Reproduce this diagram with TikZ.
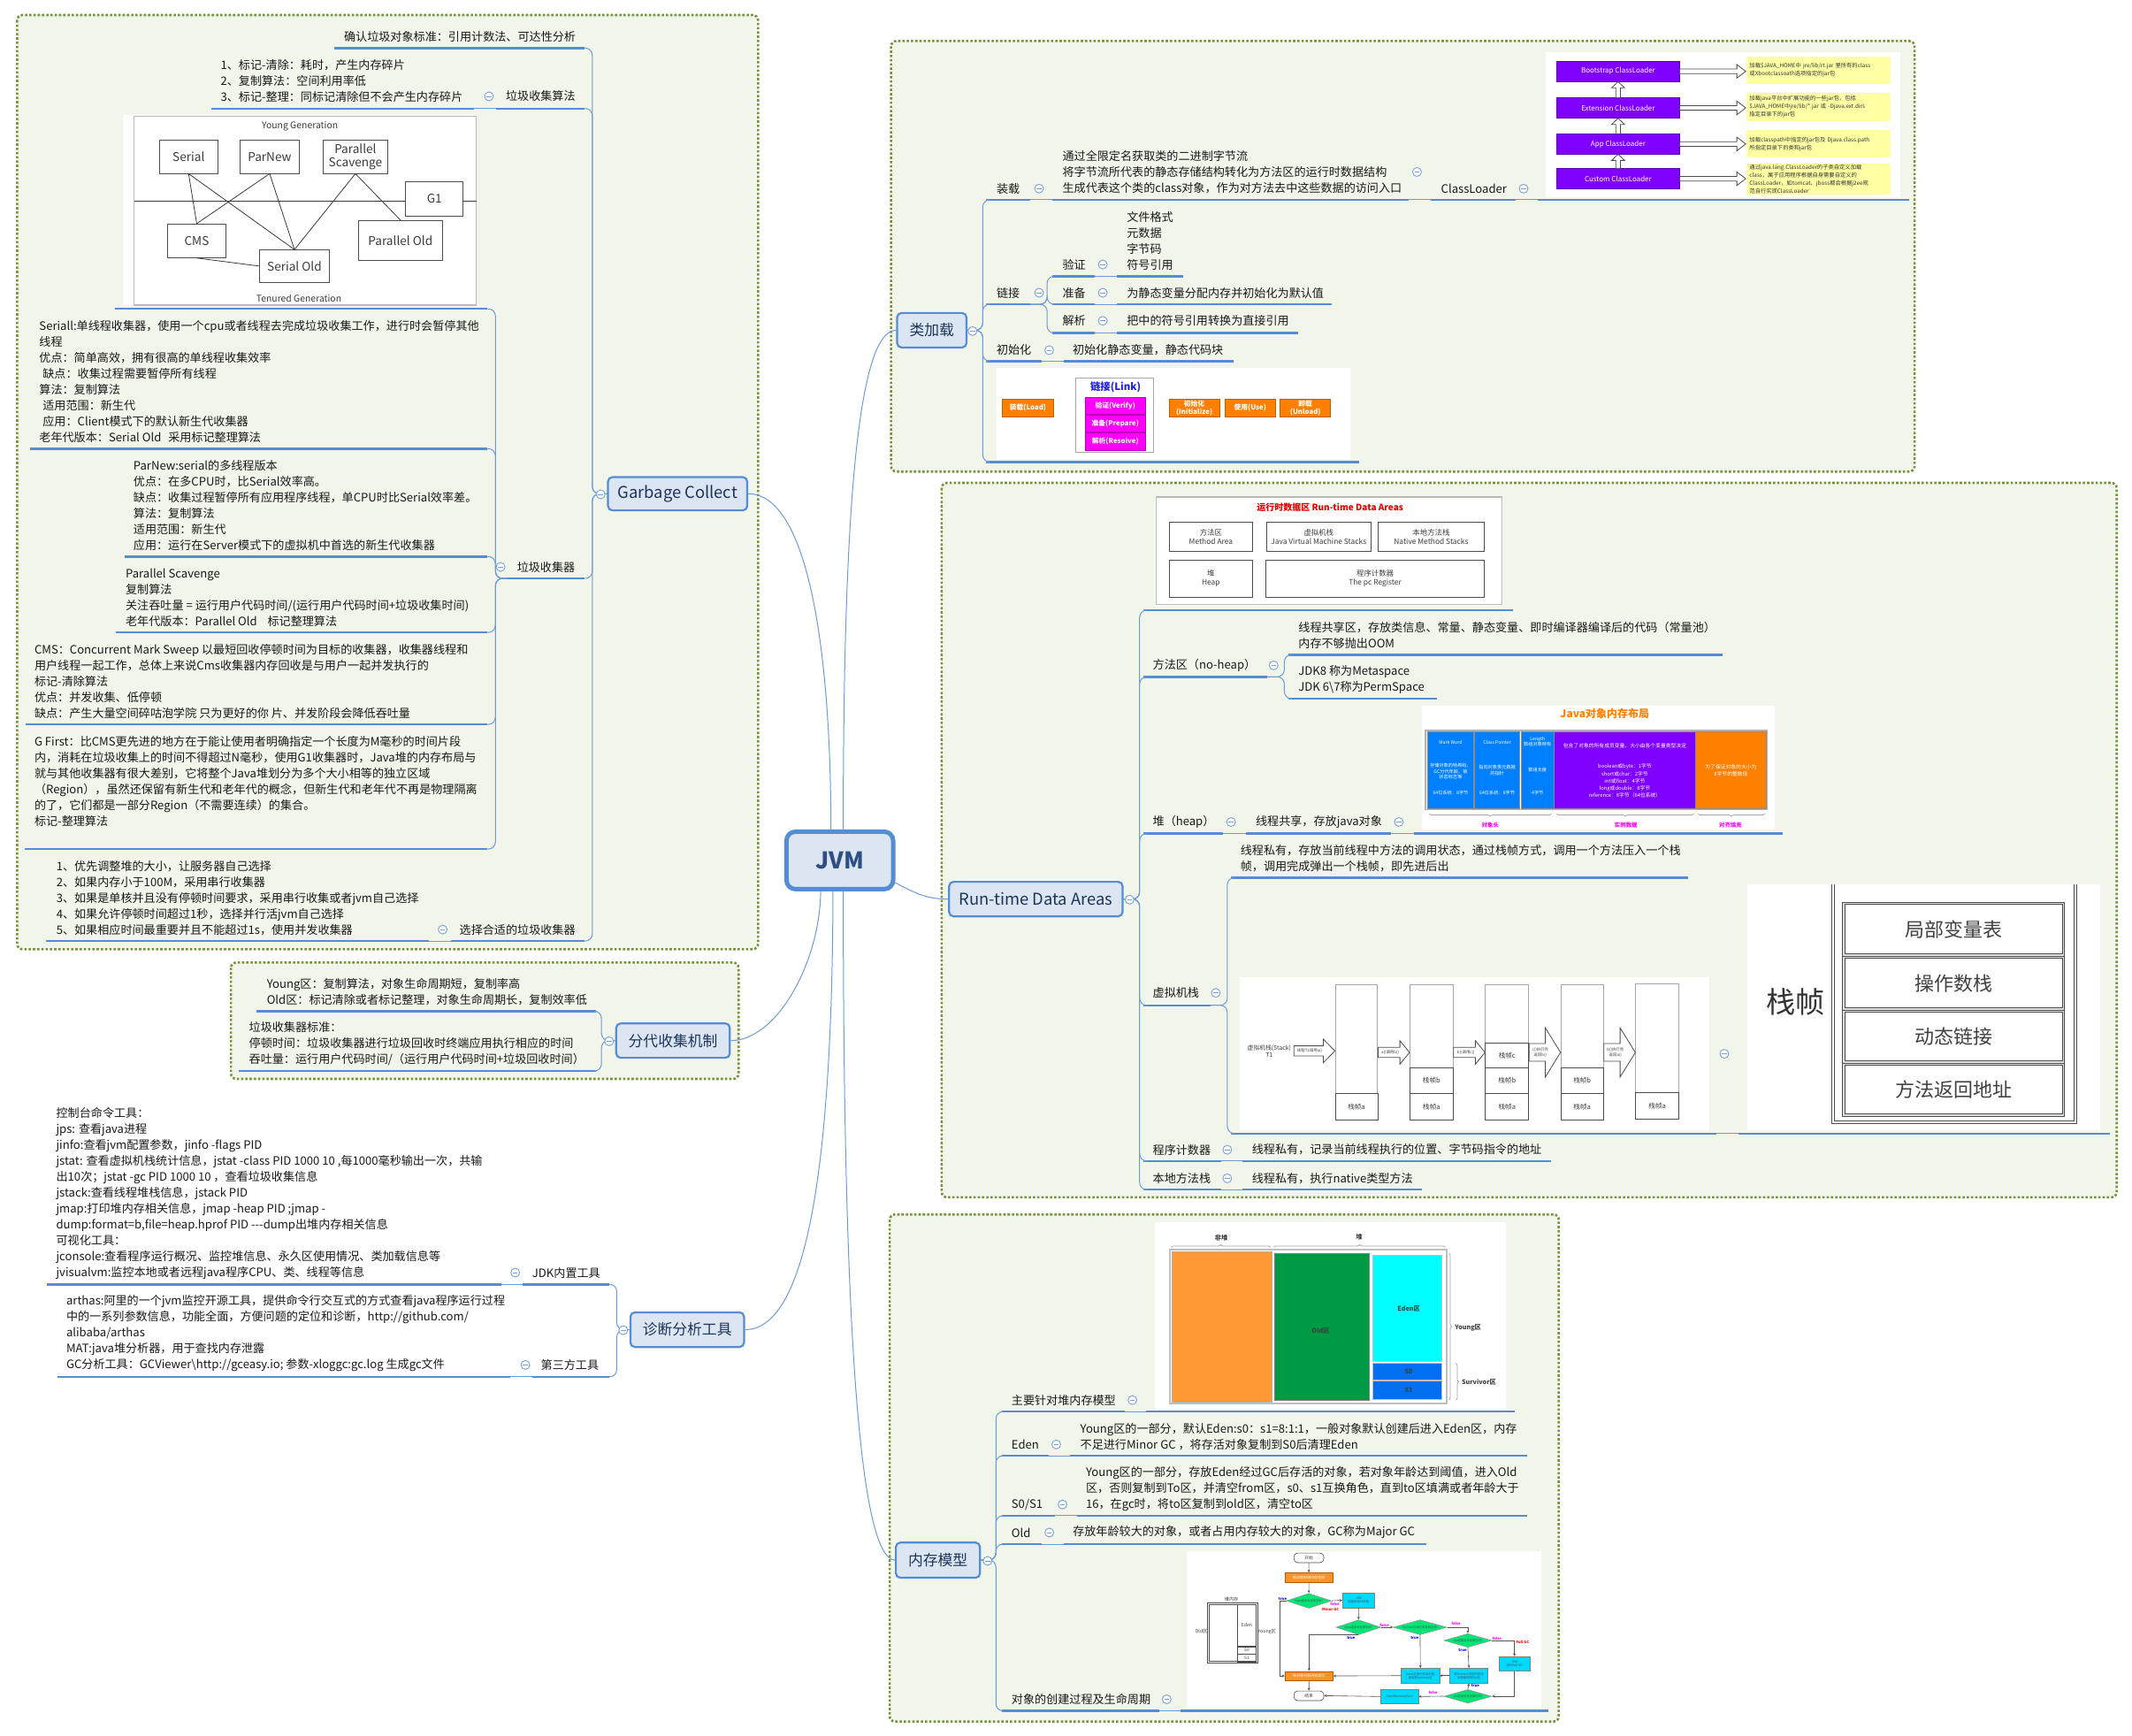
\documentclass[tikz,border=0pt]{standalone}
\usepackage{fontspec}
\setmainfont{Noto Sans CJK SC}
\usetikzlibrary{calc,shapes.geometric,decorations.pathreplacing,arrows.meta}
\definecolor{contf}{RGB}{242,245,234}
\definecolor{contb}{RGB}{118,146,60}
\definecolor{topf}{RGB}{220,230,242}
\definecolor{topb}{RGB}{84,141,212}
\definecolor{topt}{RGB}{30,52,90}
\definecolor{jvmt}{RGB}{47,79,130}
\definecolor{ulc}{RGB}{85,140,212}
\definecolor{cnc}{RGB}{108,154,218}
\definecolor{colc}{RGB}{118,160,222}
\definecolor{txtc}{RGB}{25,25,25}
\definecolor{cpur}{RGB}{128,0,255}
\definecolor{cyel}{RGB}{255,255,163}
\definecolor{cora}{RGB}{255,128,0}
\definecolor{cmag}{RGB}{255,0,255}
\definecolor{cblu}{RGB}{0,128,255}
\definecolor{ccyan}{RGB}{0,255,255}
\definecolor{cgrn}{RGB}{0,153,68}
\definecolor{horange}{RGB}{255,153,51}
\definecolor{fgreen}{RGB}{0,230,118}
\definecolor{s0blue}{RGB}{0,112,240}
\definecolor{linkblue}{RGB}{30,30,230}
\definecolor{gtext}{RGB}{60,60,60}
\newcommand\ux{0.77275pt}
\newcommand\fsz[2]{\fontsize{#1}{#2}\selectfont}
\newcommand\UL[4]{\coordinate (#1-l) at (#2,#4); \coordinate (#1-r) at (#3,#4); \draw[ul] (#1-l) -- (#1-r);}
\newcommand\CN[3]{\draw[cn] (#1) -| (#2 |- #3) -- (#3);}
\newcommand\SC[2]{\draw[cn] (#1) -- (#2);}
\newcommand\KO[2]{\node[coll] (#1) at (#2) {};}
\newcommand\hollowR[5]{\draw[harr] let \p1=(#1.east), \p2=(#2.west) in (\x1,\y1+#3) -- (\x2-#5,\y1+#3) -- (\x2-#5,\y1+#4) -- (\x2,\y1) -- (\x2-#5,\y1-#4) -- (\x2-#5,\y1-#3) -- (\x1,\y1-#3) -- cycle;}
\newcommand\hollowUp[2]{\draw[harr] let \p1=(#1.north), \p2=(#2.south) in (\x1-1.31pt,\y1) -- (\x1-1.31pt,\y2-3.48pt) -- (\x1-3.71pt,\y2-3.48pt) -- (\x1,\y2) -- (\x1+3.71pt,\y2-3.48pt) -- (\x1+1.31pt,\y2-3.48pt) -- (\x1+1.31pt,\y1) -- cycle;}
\tikzset{
  cont/.style={draw=contb, fill=contf, line width=1.3pt, dash pattern=on 1.3pt off 1.1pt, rounded corners=3pt},
  ul/.style={draw=ulc, line width=1.2pt},
  cn/.style={draw=cnc, line width=0.5pt, rounded corners=4pt},
  tx/.style={anchor=west, inner sep=0pt, align=left, font={\fsz{6.55}{9}}, text=txtc},
  sz/.style 2 args={minimum width=#1*\ux, minimum height=#2*\ux, inner sep=0pt},
  topic/.style 2 args={draw=topb, fill=topf, line width=1.1pt, rounded corners=2.5pt, text=topt, minimum width=#1*\ux-1.2pt, minimum height=#2*\ux-1.2pt, inner sep=0pt},
  jvm/.style={draw=topb, fill=topf, line width=2.5pt, rounded corners=5pt, text=jvmt, minimum width=78*\ux, minimum height=42*\ux, inner sep=0pt, font={\bfseries\fsz{13}{14}}},
  coll/.style={circle, draw=colc, fill=white, line width=0.45pt, minimum size=5pt, inner sep=0pt, path picture={\draw[colc, line width=0.45pt] ([xshift=-1.4pt]path picture bounding box.center) -- ([xshift=1.4pt]path picture bounding box.center);}},
  gbox/.style={draw=gray!60!black, fill=white, line width=0.45pt, font={\fsz{6.8}{7.8}}, text=gtext, align=center},
  gline/.style={draw=gray!45!black, line width=0.4pt},
  pbox/.style={fill=cpur, draw=cpur!70!black, line width=0.4pt, text=white, font={\fsz{4}{5}}},
  note/.style={fill=cyel, align=left, font={\fsz{3.15}{4.5}}, text=black!80, inner sep=0pt},
  harr/.style={draw=gray!60!black, fill=white, line width=0.4pt},
  obox/.style={fill=cora, draw=cora!75!black, line width=0.3pt, text=white, font={\bfseries\fsz{3.9}{4.6}}, align=center},
  mbox/.style={fill=cmag, draw=cmag!75!black, line width=0.3pt, text=white, font={\bfseries\fsz{3.9}{4.6}}, align=center},
  rbox/.style={draw=gray!60!black, fill=white, line width=0.4pt, font={\fsz{4.2}{5}}, align=center, text=gtext},
  jblk/.style={draw=black!45, line width=0.4pt},
  jt/.style={text=white, font={\fsz{2.6}{3.3}}, align=center, inner sep=0pt},
  scol/.style={draw=gray!70, line width=0.5pt, fill=white},
  sfr/.style={draw=gray!60!black, line width=0.4pt, fill=white, font={\fsz{3.8}{4.5}}, text=gtext},
  atx/.style={font={\fsz{2.2}{2.7}}, text=gtext, align=center, inner sep=0pt},
  zbox/.style={draw=black!70, line width=0.5pt, double=gray!25, double distance=0.7pt, fill=white, font={\fsz{11}{12}}, text=black!75},
  hlab/.style={font={\bfseries\fsz{3.6}{4.2}}, text=black!75, inner sep=0pt},
  frr/.style={draw=gray!60!black, line width=0.3pt, rounded corners=2pt, fill=white, font={\fsz{2.4}{2.8}}, text=gtext},
  fob/.style={fill=cora!85!white, draw=cora!70!black, line width=0.3pt, text=white, font={\fsz{2}{2.4}}},
  fcy/.style={fill=ccyan!85!blue, draw=black!50, line width=0.3pt, text=black!70, font={\fsz{1.7}{2.1}}, align=center},
  fdia/.style={diamond, aspect=3, fill=fgreen, draw=black!40, line width=0.3pt, inner sep=0pt},
  fdt/.style={font={\fsz{1.6}{2}}, text=black!70, inner sep=0pt},
  farr/.style={draw=gray!65!black, line width=0.3pt, -{Stealth[length=1.6pt,width=1.5pt]}},
  ftl/.style={font={\bfseries\fsz{2.1}{2.5}}, inner sep=0pt},
}
\begin{document}
\begin{tikzpicture}[x=0.77275pt,y=-0.77275pt]
\useasboundingbox (0,0) rectangle (1560,1269.6);
\fill[white] (0,0) rectangle (1560,1269.6);

\node[jvm] (jvm) at (614.5,629.5) {JVM};

% ================= Garbage Collect
\draw[cont] (12.5,11) rectangle (554.7,694.5);
\node[topic={103.4}{25.9}, font={\fsz{9.2}{11}}] (gc) at (495.8,361.25) {Garbage Collect};
\coordinate (gcT) at (433.4,0);
\coordinate (gccT) at (362.5,0);
\UL{gca}{244.7}{428}{35.2}
\UL{gcb}{363}{428}{79.4}
\UL{gcb1}{154.5}{347}{79.4}
\UL{gcc}{371}{428}{423.2}
\UL{gcc1}{83.8}{356.7}{226}
\UL{gcc2}{22.1}{356.7}{328.3}
\UL{gcc3}{91}{356.7}{407.2}
\UL{gcc4}{84.9}{356.7}{462.7}
\UL{gcc5}{18.5}{356.7}{530}
\UL{gcc6}{17.8}{356.7}{621.2}
\UL{gcd}{330}{428}{688.5}
\UL{gcd1}{33.9}{313.9}{688.5}
\CN{gc.west}{gcT}{gca-r}
\CN{gc.west}{gcT}{gcb-r}
\CN{gc.west}{gcT}{gcc-r}
\CN{gc.west}{gcT}{gcd-r}
\SC{gcb-l}{gcb1-r}
\SC{gcd-l}{gcd1-r}
\foreach \c in {gcc1-r,gcc2-r,gcc3-r,gcc4-r,gcc5-r,gcc6-r}{\CN{gcc-l}{gccT}{\c}}
\KO{kgc}{439.5,361.7}
\KO{kgcb}{357.8,70.5}
\KO{kgcc}{366.3,414.8}
\KO{kgcd}{323.9,680.1}
\node[tx] (gcat) at (251.5,27) {确认垃圾对象标准：引用计数法、可达性分析};
\node[tx] (gcbt) at (369.9,70.5) {垃圾收集算法};
\node[tx] (gcb1t) at (161.2,59) {1、标记-清除：耗时，产生内存碎片\\2、复制算法：空间利用率低\\3、标记-整理：同标记清除但不会产生内存碎片};
\node[tx] (gcct) at (378.1,414.8) {垃圾收集器};
\node[tx] (gcc2t) at (28.5,279) {Seriall:单线程收集器，使用一个cpu或者线程去完成垃圾收集工作，进行时会暂停其他\\线程\\优点：简单高效，拥有很高的单线程收集效率\\\hspace*{0.3em}缺点：收集过程需要暂停所有线程\\算法：复制算法\\\hspace*{0.3em}适用范围：新生代\\\hspace*{0.3em}应用：Client模式下的默认新生代收集器\\老年代版本：Serial Old\hspace{0.6em}采用标记整理算法};
\node[tx] (gcc3t) at (97.4,369.5) {ParNew:serial的多线程版本\\优点：在多CPU时，比Serial效率高。\\缺点：收集过程暂停所有应用程序线程，单CPU时比Serial效率差。\\算法：复制算法\\适用范围：新生代\\应用：运行在Server模式下的虚拟机中首选的新生代收集器};
\node[tx] (gcc4t) at (91.7,437.1) {Parallel Scavenge\\复制算法\\关注吞吐量 = 运行用户代码时间/(运行用户代码时间+垃圾收集时间)\\老年代版本：Parallel Old\hspace{0.9em}标记整理算法};
\node[tx] (gcc5t) at (25,498.4) {CMS：Concurrent Mark Sweep 以最短回收停顿时间为目标的收集器，收集器线程和\\用户线程一起工作，总体上来说Cms收集器内存回收是与用户一起并发执行的\\标记-清除算法\\优点：并发收集、低停顿\\缺点：产生大量空间碎咕泡学院 只为更好的你 片、并发阶段会降低吞吐量};
\node[tx] (gcc6t) at (25,571.4) {G First：比CMS更先进的地方在于能让使用者明确指定一个长度为M毫秒的时间片段\\内，消耗在垃圾收集上的时间不得超过N毫秒，使用G1收集器时，Java堆的内存布局与\\就与其他收集器有很大差别，它将整个Java堆划分为多个大小相等的独立区域\\（Region），虽然还保留有新生代和老年代的概念，但新生代和老年代不再是物理隔离\\的了，它们都是一部分Region（不需要连续）的集合。\\标记-整理算法};
\node[tx] (gcdt) at (336,680.1) {选择合适的垃圾收集器};
\node[tx] (gcd1t) at (41,656.9) {1、优先调整堆的大小，让服务器自己选择\\2、如果内存小于100M，采用串行收集器\\3、如果是单核并且没有停顿时间要求，采用串行收集或者jvm自己选择\\4、如果允许停顿时间超过1秒，选择并行活jvm自己选择\\5、如果相应时间最重要并且不能超过1s，使用并发收集器};

% GC collectors picture
\fill[white] (89.9,84.1) rectangle (348.9,223.2);
\draw[gray!55, line width=0.6pt] (98.1,85.2) rectangle (348.5,223.2);
\draw[gline] (98.1,147) -- (348.5,147);
\node[font={\fsz{5.2}{6}}, text=gtext] (yg) at (219.4,92.3) {Young Generation};
\node[font={\fsz{5.2}{6}}, text=gtext] (tg) at (218.7,218.3) {Tenured Generation};
\node[gbox, sz={42.8}{24.3}] (serial) at (138,114.65) {Serial};
\node[gbox, sz={42.8}{24.3}] (parnew) at (197.3,114.65) {ParNew};
\node[gbox, sz={47.1}{24.3}] (pscav) at (260.05,114.65) {Parallel\\Scavenge};
\node[gbox, sz={42.1}{24.8}] (gone) at (317.85,145.5) {G1};
\node[gbox, sz={42.5}{24.6}] (cms) at (143.95,176.2) {CMS};
\node[gbox, sz={51.3}{23.5}] (sold) at (215.45,194.65) {Serial Old};
\node[gbox, sz={61}{29.4}] (pold) at (293,176) {Parallel Old};
\draw[gline] (serial.south) -- (cms.north);
\draw[gline] (serial.south) -- (sold.north);
\draw[gline] (parnew.south) -- (cms.north);
\draw[gline] (parnew.south) -- (sold.north);
\draw[gline] (pscav.south) -- (sold.north);
\draw[gline] (pscav.south) -- (pold.north);
\draw[gline] (cms.south) -- (sold.west);

% ================= 分代收集机制
\draw[cont] (169,704.2) rectangle (540.4,789.4);
\node[topic={84.7}{26.7}, font={\fsz{8.4}{10}}] (fd) at (492.45,761.35) {分代收集机制};
\coordinate (fdT) at (440.1,0);
\UL{fd1}{187.6}{436.4}{739.8}
\UL{fd2}{174.6}{436.4}{783.6}
\CN{fd.west}{fdT}{fd1-r}
\CN{fd.west}{fdT}{fd2-r}
\KO{kfd}{445.7,761.8}
\node[tx] (fd1t) at (195,725.6) {Young区：复制算法，对象生命周期短，复制率高\\Old区：标记清除或者标记整理，对象生命周期长，复制效率低};
\node[tx] (fd2t) at (182,763.5) {垃圾收集器标准：\\停顿时间：垃圾收集器进行垃圾回收时终端应用执行相应的时间\\吞吐量：运行用户代码时间/（运行用户代码时间+垃圾回收时间）};

% ================= 诊断分析工具
\node[topic={84.7}{26.9}, font={\fsz{8.4}{10}}] (zd) at (502.85,972.85) {诊断分析工具};
\coordinate (zdT) at (451.3,0);
\UL{zda}{382.5}{445.7}{939.7}
\UL{zda1}{34.2}{367}{939.7}
\UL{zdb}{389.2}{445.7}{1007.3}
\UL{zdb1}{42}{373.3}{1007.3}
\CN{zd.west}{zdT}{zda-r}
\CN{zd.west}{zdT}{zdb-r}
\SC{zda-l}{zda1-r}
\SC{zdb-l}{zdb1-r}
\KO{kzd}{456,973.2}
\KO{kzda}{377,931.1}
\KO{kzdb}{384.4,998.6}
\node[tx] (zdat) at (389.2,931.1) {JDK内置工具};
\node[tx] (zdbt) at (395.5,998.6) {第三方工具};
\node[tx] (zda1t) at (40.9,873.3) {控制台命令工具：\\jps: 查看java进程\\jinfo:查看jvm配置参数，jinfo -flags PID\\jstat: 查看虚拟机栈统计信息，jstat -class PID 1000 10 ,每1000毫秒输出一次，共输\\出10次；jstat -gc PID 1000 10 ，查看垃圾收集信息\\jstack:查看线程堆栈信息，jstack PID\\jmap:打印堆内存相关信息，jmap -heap PID ;jmap -\\dump:format=b,file=heap.hprof PID -{}-{}-dump出堆内存相关信息\\可视化工具：\\jconsole:查看程序运行概况、监控堆信息、永久区使用情况、类加载信息等\\jvisualvm:监控本地或者远程java程序CPU、类、线程等信息};
\node[tx] (zdb1t) at (48.3,975.4) {arthas:阿里的一个jvm监控开源工具，提供命令行交互式的方式查看java程序运行过程\\中的一系列参数信息，功能全面，方便问题的定位和诊断，http://github.com/\\alibaba/arthas\\MAT:java堆分析器，用于查找内存泄露\\GC分析工具：GCViewer\textbackslash{}http://gceasy.io; 参数-xloggc:gc.log 生成gc文件};

% ================= 类加载
\begin{scope}[shift={(652,0)}, xscale=0.988, shift={(-652,0)}]
\draw[cont] (652,30) rectangle (1410,345);
\node[topic={52.3}{26.8}, font={\fsz{8.4}{10}}] (lj) at (682.15,241.6) {类加载};
\coordinate (ljT) at (719.9,0);
\coordinate (ljbT) at (767.6,0);
\UL{lja}{722.4}{755.1}{146.2}
\UL{lja1}{771.6}{1035.5}{146.2}
\UL{lja2}{1051.6}{1114.4}{146.2}
\UL{lja3}{1131}{1406}{146.2}
\UL{ljb}{722.4}{755.1}{222.6}
\UL{ljb1}{771.6}{802.8}{202.1}
\UL{ljb1a}{819.4}{868.1}{202.1}
\UL{ljb2}{771.6}{802.8}{222.6}
\UL{ljb2a}{819.4}{978.7}{222.6}
\UL{ljb3}{771.6}{802.8}{243.7}
\UL{ljb3a}{819.4}{953.6}{243.7}
\UL{ljc}{722.4}{763.6}{264.2}
\UL{ljc1}{780.2}{905.8}{264.2}
\UL{ljd}{722.4}{998.8}{338}
\CN{lj.east}{ljT}{lja-l}
\CN{lj.east}{ljT}{ljb-l}
\CN{lj.east}{ljT}{ljc-l}
\CN{lj.east}{ljT}{ljd-l}
\SC{lja-r}{lja1-l}
\SC{lja1-r}{lja2-l}
\SC{lja2-r}{lja3-l}
\CN{ljb-r}{ljbT}{ljb1-l}
\CN{ljb-r}{ljbT}{ljb2-l}
\CN{ljb-r}{ljbT}{ljb3-l}
\SC{ljb1-r}{ljb1a-l}
\SC{ljb2-r}{ljb2a-l}
\SC{ljb3-r}{ljb3a-l}
\SC{ljc-r}{ljc1-l}
\KO{klj}{712.3,242.2}
\KO{klja}{761.6,138}
\KO{klja1}{1041.5,125.8}
\KO{klja2}{1120.4,138}
\KO{kljb}{761.6,214.2}
\KO{kljb1}{808.8,193.5}
\KO{kljb2}{808.8,214.2}
\KO{kljb3}{808.8,234.7}
\KO{kljc}{769.1,256.2}
\node[tx] (ljat) at (729.9,138) {装载};
\node[tx] (lja1t) at (778.7,126.15) {通过全限定名获取类的二进制字节流\\将字节流所代表的静态存储结构转化为方法区的运行时数据结构\\生成代表这个类的class对象，作为对方法去中这些数据的访问入口};
\node[tx] (lja2t) at (1059.1,138) {ClassLoader};
\node[tx] (ljbt) at (729.9,214.2) {链接};
\node[tx] (ljb1t) at (778.7,193.5) {验证};
\node[tx] (ljb1at) at (826.4,176) {文件格式\\元数据\\字节码\\符号引用};
\node[tx] (ljb2t) at (778.7,214.2) {准备};
\node[tx] (ljb2at) at (826.4,214.2) {为静态变量分配内存并初始化为默认值};
\node[tx] (ljb3t) at (778.7,234.7) {解析};
\node[tx] (ljb3at) at (826.4,234.7) {把中的符号引用转换为直接引用};
\node[tx] (ljct) at (729.9,256.2) {初始化};
\node[tx] (ljc1t) at (786.2,256.2) {初始化静态变量，静态代码块};

% ClassLoader picture
\fill[white] (1137,38.4) rectangle (1399.4,144.1);
\node[pbox, sz={89.5}{14.6}] (bcl) at (1190.45,52.2) {Bootstrap ClassLoader};
\node[pbox, sz={89.5}{14.7}] (ecl) at (1190.45,78.95) {Extension ClassLoader};
\node[pbox, sz={89.5}{14.5}] (acl) at (1190.45,105.35) {App ClassLoader};
\node[pbox, sz={89.5}{14.7}] (ccl) at (1190.45,130.75) {Custom ClassLoader};
\node[note, sz={105.9}{20.1}, text width=101*\ux] (n1) at (1338.85,51.45) {加载\$JAVA\_HOME中 jre/lib/rt.jar 里所有的class\\或Xbootclassoath选项指定的jar包};
\node[note, sz={105.9}{20.4}, text width=101*\ux] (n2) at (1338.85,78.2) {加载java平台中扩展功能的一些jar包，包括\\\$JAVA\_HOME中jre/lib/*.jar 或 -Djava.ext.dirs\\指定目录下的jar包};
\node[note, sz={105.9}{20.1}, text width=101*\ux] (n3) at (1338.85,105.35) {加载classpath中指定的jar包及 Djava.class.path\\所指定目录下的类和jar包};
\node[note, sz={105.9}{22.7}, text width=101*\ux] (n4) at (1338.85,131.05) {通过java.lang.ClassLoader的子类自定义加载\\class，属于应用程序根据自身需要自定义的\\ClassLoader，如tomcat、jboss都会根据j2ee规\\范自行实现ClassLoader};
\hollowR{bcl}{n1}{1.31pt}{3.86pt}{5.1pt}
\hollowR{ecl}{n2}{1.31pt}{3.86pt}{5.1pt}
\hollowR{acl}{n3}{1.31pt}{3.86pt}{5.1pt}
\hollowR{ccl}{n4}{1.31pt}{3.86pt}{5.1pt}
\hollowUp{ecl}{bcl}
\hollowUp{acl}{ecl}
\hollowUp{ccl}{acl}

% lifecycle picture
\fill[white] (729.9,269.2) rectangle (992.3,335.8);
\node[obox, sz={37.1}{13.3}] (lc1) at (753.35,298.45) {装载(Load)};
\node[draw=gray!70, fill=white, line width=0.5pt, sz={56.8}{54.3}] (lcf) at (817.5,303.65) {};
\node[font={\bfseries\fsz{5.7}{6.5}}, text=linkblue, inner sep=0pt] (lct) at (818.3,283) {链接(Link)};
\node[mbox, sz={43.7}{12.2}] (lc2) at (818.05,296.8) {验证(Verify)};
\node[mbox, sz={43.7}{12.2}] (lc3) at (818.05,309.7) {准备(Prepare)};
\node[mbox, sz={43.7}{12.4}] (lc4) at (818.05,323.1) {解析(Resolve)};
\node[obox, sz={37.1}{13.3}] (lc5) at (876.55,298.45) {初始化\\(Initialize)};
\node[obox, sz={36.9}{13.3}] (lc6) at (917.95,298.45) {使用(Use)};
\node[obox, sz={36.9}{13.3}] (lc7) at (958.85,298.45) {卸载\\(Unload)};
\end{scope}

% ================= Run-time Data Areas
\begin{scope}[shift={(689,0)}, xscale=0.99, shift={(-689,0)}]
\draw[cont] (689,353.3) rectangle (1557.5,876);
\node[topic={128.5}{26.8}, font={\fsz{9.2}{11}}] (rda) at (758.65,657.8) {Run-time Data Areas};
\coordinate (rdaT) at (835.3,0);
\coordinate (rd2T) at (942.3,0);
\coordinate (rd4T) at (900.1,0);
\UL{rd1}{838.1}{1111.4}{446.5}
\UL{rd2}{838.1}{929.4}{495.2}
\UL{rd2a}{945.2}{1266.4}{479}
\UL{rd2b}{945.2}{1055.1}{511.2}
\UL{rd3}{838.1}{897.2}{609.8}
\UL{rd3a}{914.2}{1021.2}{609.8}
\UL{rd3b}{1038.2}{1310.4}{609.8}
\UL{rd4}{838.1}{887.7}{735.5}
\UL{rd4a}{902.9}{1241}{642.1}
\UL{rd4b}{902.9}{1261.9}{829.3}
\UL{rd4c}{1277.7}{1552.2}{829.3}
\UL{rd5}{838.1}{895.6}{849.4}
\UL{rd5a}{911.3}{1139.6}{849.4}
\UL{rd6}{838.1}{895.6}{870.3}
\UL{rd6a}{911.3}{1043.8}{870.3}
\foreach \c in {rd1-l,rd2-l,rd3-l,rd4-l,rd5-l,rd6-l}{\CN{rda.east}{rdaT}{\c}}
\CN{rd2-r}{rd2T}{rd2a-l}
\CN{rd2-r}{rd2T}{rd2b-l}
\CN{rd4-r}{rd4T}{rd4a-l}
\CN{rd4-r}{rd4T}{rd4b-l}
\SC{rd3-r}{rd3a-l}
\SC{rd3a-r}{rd3b-l}
\SC{rd4b-r}{rd4c-l}
\SC{rd5-r}{rd5a-l}
\SC{rd6-r}{rd6a-l}
\KO{krda}{827.9,658.2}
\KO{krd2}{934.4,486.8}
\KO{krd3}{902.9,601.4}
\KO{krd3a}{1026.9,601.4}
\KO{krd4}{891.6,726.4}
\KO{krd4b}{1267.5,771}
\KO{krd5}{900.1,841.2}
\KO{krd6}{900.1,862.1}
\node[tx] (rd2t) at (844.8,486.8) {方法区（no-heap）};
\node[tx] (rd2at) at (952.5,464.6) {线程共享区，存放类信息、常量、静态变量、即时编译器编译后的代码（常量池）\\内存不够抛出OOM};
\node[tx] (rd2bt) at (952.5,497.15) {JDK8 称为Metaspace\\JDK 6\textbackslash{}7称为PermSpace};
\node[tx] (rd3t) at (844.8,601.4) {堆（heap）};
\node[tx] (rd3at) at (920.9,601.4) {线程共享，存放java对象};
\node[tx] (rd4t) at (844.8,726.4) {虚拟机栈};
\node[tx] (rd4at) at (909.6,627.95) {线程私有，存放当前线程中方法的调用状态，通过栈帧方式，调用一个方法压入一个栈\\帧，调用完成弹出一个栈帧，即先进后出};
\node[tx] (rd5t) at (844.8,841.2) {程序计数器};
\node[tx] (rd5at) at (918.1,841.2) {线程私有，记录当前线程执行的位置、字节码指令的地址};
\node[tx] (rd6t) at (844.8,862.1) {本地方法栈};
\node[tx] (rd6at) at (918.1,862.1) {线程私有，执行native类型方法};

% RDA picture
\fill[white] (846.5,362.8) rectangle (1104.1,443.2);
\draw[gray!55, line width=0.8pt] (847.5,363.8) rectangle (1103,442.2);
\node[font={\bfseries\fsz{5}{6}}, text=red!90!black] (rdat) at (976.1,371.4) {运行时数据区 Run-time Data Areas};
\node[rbox, sz={60.3}{21.5}] (rb1) at (888,392.55) {方法区\\Method Area};
\node[rbox, sz={76.6}{21.5}] (rb2) at (967.7,392.55) {虚拟机栈\\Java Virtual Machine Stacks};
\node[rbox, sz={77.2}{21.5}] (rb3) at (1050.8,392.55) {本地方法栈\\Native Method Stacks};
\node[rbox, sz={60.3}{27}] (rb4) at (888,423.3) {堆\\Heap};
\node[rbox, sz={160}{27}] (rb5) at (1009.4,423.3) {程序计数器\\The pc Register};

% Java object layout picture
\fill[white] (1043.8,516.1) rectangle (1304.7,607.2);
\node[font={\bfseries\fsz{6}{7}}, text=cora] (jot) at (1179.1,522.4) {Java对象内存布局};
\draw[gray!60, line width=0.8pt] (1046.6,534.3) rectangle (1299.1,592.3);
\node[jblk, fill=cblu, sz={33.8}{56.1}] (mw) at (1065.2,563.35) {};
\node[jblk, fill=cblu, sz={32.8}{56.1}] (cp) at (1099.6,563.35) {};
\node[jblk, fill=cblu, sz={23.7}{56.1}] (lenb) at (1129.45,563.35) {};
\node[jblk, fill=cpur, sz={103.1}{56.1}] (pur) at (1193.95,563.35) {};
\node[jblk, fill=cora, sz={51.3}{56.1}] (ora) at (1272.35,563.35) {};
\node[jt] (mw1) at (1065.2,543.1) {Mark Word};
\node[jt] (mw2) at (1065.2,564.3) {存储对象的哈希码、\\GC分代年龄、锁\\状态标志等};
\node[jt] (mw3) at (1065.2,579.8) {64位系统：8字节};
\node[jt] (cp1) at (1099.6,543.1) {Class Pointer};
\node[jt] (cp2) at (1099.6,563.5) {指向对象类元数据\\的指针};
\node[jt] (cp3) at (1099.6,579.8) {64位系统：8字节};
\node[jt] (ln1) at (1129.45,542.5) {Length\\数组对象特有};
\node[jt] (ln2) at (1129.45,563.5) {数组长度};
\node[jt] (ln3) at (1129.45,579.8) {4字节};
\node[jt, font={\fsz{2.9}{3.6}}] (pu1) at (1193.95,545.7) {包含了对象的所有成员变量，大小由各个变量类型决定};
\node[jt, font={\fsz{2.9}{4.1}}] (pu2) at (1193.95,571.4) {boolean或byte：1字节\\short或char：2字节\\int或float：4字节\\long或double：8字节\\reference：8字节（64位系统）};
\node[jt, font={\fsz{2.9}{4.1}}] (or1) at (1272.35,563.5) {为了保证对象的大小为\\8字节的整数倍};
\draw[gray!70, decorate, decoration={brace, mirror, amplitude=1.5pt}] (1049.4,595.3) -- (1139.6,595.3);
\draw[gray!70, decorate, decoration={brace, mirror, amplitude=1.5pt}] (1143.5,595.3) -- (1245,595.3);
\draw[gray!70, decorate, decoration={brace, mirror, amplitude=1.5pt}] (1247.8,595.3) -- (1297.4,595.3);
\node[font={\bfseries\fsz{3.2}{4}}, text=cmag] (jl1) at (1094.5,603.9) {对象头};
\node[font={\bfseries\fsz{3.2}{4}}, text=cmag] (jl2) at (1194.8,603.9) {实例数据};
\node[font={\bfseries\fsz{3.2}{4}}, text=cmag] (jl3) at (1272,603.9) {对齐填充};

% stack picture
\fill[white] (909.6,715) rectangle (1256.3,827.1);
\node[scol, sz={31}{99.2}] (c1) at (995.6,770) {};
\node[scol, sz={31.6}{99.2}] (c2) at (1051.1,770) {};
\node[scol, sz={31.6}{99.2}] (c3) at (1106.9,770) {};
\node[scol, sz={31}{99.2}] (c4) at (1162.4,770) {};
\node[scol, sz={31.5}{98.8}] (c5) at (1217.95,769.1) {};
\node[sfr, sz={31}{19}] (c1a) at (995.6,809.7) {栈帧a};
\node[sfr, sz={31.6}{18.3}] (c2b) at (1051.1,790.55) {栈帧b};
\node[sfr, sz={31.6}{19}] (c2a) at (1051.1,809.7) {栈帧a};
\node[sfr, sz={31.6}{18.3}] (c3c) at (1106.9,772.05) {栈帧c};
\node[sfr, sz={31.6}{18.3}] (c3b) at (1106.9,790.55) {栈帧b};
\node[sfr, sz={31.6}{19}] (c3a) at (1106.9,809.7) {栈帧a};
\node[sfr, sz={31}{18.3}] (c4b) at (1162.4,790.55) {栈帧b};
\node[sfr, sz={31}{19}] (c4a) at (1162.4,809.7) {栈帧a};
\node[sfr, sz={31.5}{19}] (c5a) at (1217.95,809) {栈帧a};
\node[font={\fsz{3.4}{4.3}}, text=gtext, align=center, inner sep=0pt] (stk) at (931.1,769) {虚拟机栈(Stack)\\T1};
\node[inner sep=0pt, minimum size=0pt] (a1s) at (949.1,768.9) {};
\hollowR{a1s}{c1}{2.86pt}{6.65pt}{6.57pt}
\hollowR{c1}{c2}{2.86pt}{6.65pt}{5.5pt}
\hollowR{c2}{c3}{2.86pt}{6.65pt}{5.5pt}
\hollowR{c3}{c4}{5pt}{13.9pt}{8.7pt}
\hollowR{c4}{c5}{5pt}{13.9pt}{8.7pt}
\node[atx] (at1) at (961,768.9) {线程T1调用a()};
\node[atx] (at2) at (1020.5,770) {a()调用b()};
\node[atx] (at3) at (1076.5,770) {b()调用c()};
\node[atx] (at4) at (1131.5,770) {c()执行完\\返回b()};
\node[atx] (at5) at (1187,770) {b()执行完\\返回a()};

% stack frame picture
\fill[white] (1284.4,647) rectangle (1545.4,827.1);
\node[font={\fsz{16.6}{18}}, text=black!80] (zzt) at (1320,732.9) {栈帧};
\draw[draw=black!70, line width=0.5pt, double=white, double distance=1pt] (1348.1,647) -- (1348.1,821.3) -- (1526.8,821.3) -- (1526.8,647);
\node[zbox, sz={160.6}{37.7}] (zb1) at (1436.9,679.95) {局部变量表};
\node[zbox, sz={160.6}{37.8}] (zb2) at (1436.9,719.4) {操作数栈};
\node[zbox, sz={160.6}{37.3}] (zb3) at (1436.9,758.45) {动态链接};
\node[zbox, sz={160.6}{37.3}] (zb4) at (1436.9,797.25) {方法返回地址};
\end{scope}

% ================= 内存模型
\begin{scope}[shift={(651,889)}, xscale=0.99, yscale=0.983, shift={(-651,-889)}]
\draw[cont] (651,888.5) rectangle (1145.5,1266);
\node[topic={63.1}{27.3}, font={\fsz{8.4}{10}}] (nc) at (686.65,1145.85) {内存模型};
\coordinate (ncT) at (729.5,0);
\UL{nc1}{733.7}{824.9}{1035.4}
\UL{nc1a}{840.5}{1112.8}{1035.4}
\UL{nc2}{733.7}{768.3}{1068.2}
\UL{nc2a}{784.5}{1121.9}{1068.2}
\UL{nc3}{733.7}{773.2}{1112.9}
\UL{nc3a}{789.3}{1121.9}{1112.9}
\UL{nc4}{733.7}{763.5}{1134}
\UL{nc4a}{779.6}{1047.5}{1134}
\UL{nc5}{733.7}{850.2}{1258.1}
\UL{nc5a}{866}{1138}{1258.1}
\foreach \c in {nc1-l,nc2-l,nc3-l,nc4-l,nc5-l}{\CN{nc.east}{ncT}{\c}}
\SC{nc1-r}{nc1a-l}
\SC{nc2-r}{nc2a-l}
\SC{nc3-r}{nc3a-l}
\SC{nc4-r}{nc4a-l}
\SC{nc5-r}{nc5a-l}
\KO{knc}{723.3,1146.4}
\KO{knc1}{830.4,1026.7}
\KO{knc2}{774.1,1059.7}
\KO{knc3}{778.7,1104.4}
\KO{knc4}{769,1125.3}
\KO{knc5}{855.7,1249.4}
\node[tx] (nc1t) at (740.8,1026.7) {主要针对堆内存模型};
\node[tx] (nc2t) at (740.8,1059.7) {Eden};
\node[tx] (nc2at) at (791.6,1053.75) {Young区的一部分，默认Eden:s0：s1=8:1:1，一般对象默认创建后进入Eden区，内存\\不足进行Minor GC ，将存活对象复制到S0后清理Eden};
\node[tx] (nc3t) at (740.8,1104.4) {S0/S1};
\node[tx] (nc3at) at (795.8,1092.5) {Young区的一部分，存放Eden经过GC后存活的对象，若对象年龄达到阈值，进入Old\\区，否则复制到To区，并清空from区，s0、s1互换角色，直到to区填满或者年龄大于\\16，在gc时，将to区复制到old区，清空to区};
\node[tx] (nc4t) at (740.8,1125.3) {Old};
\node[tx] (nc4at) at (786.1,1125.3) {存放年龄较大的对象，或者占用内存较大的对象，GC称为Major GC};
\node[tx] (nc5t) at (740.8,1249.4) {对象的创建过程及生命周期};

% heap picture
\fill[white] (847,894.3) rectangle (1106.4,1032.9);
\node[hlab] (hl1) at (896.1,905.8) {非堆};
\node[hlab] (hl2) at (998,905) {堆};
\draw[gray!70, decorate, decoration={brace, amplitude=1.5pt}] (859,913) -- (932.3,913);
\draw[gray!70, decorate, decoration={brace, amplitude=1.5pt}] (935,913) -- (1061.7,913);
\draw[gray!50, line width=1pt] (858,915) rectangle (1062.7,1029.2);
\draw[draw=gray!60, fill=horange, line width=0.4pt] (859.9,916.2) rectangle (933.3,1028);
\draw[draw=black!50, fill=cgrn, line width=0.4pt] (935.6,917.4) rectangle (1005.4,1026.7);
\draw[draw=gray!50, fill=ccyan, line width=0.4pt] (1007.7,918.7) rectangle (1058.8,997.6);
\draw[draw=gray!50, fill=s0blue, line width=0.4pt] (1007.7,998.9) rectangle (1058.8,1011.8);
\draw[draw=gray!50, fill=s0blue, line width=0.4pt] (1007.7,1012.5) rectangle (1058.8,1025.9);
\node[hlab] (hl3) at (969.5,975.3) {Old区};
\node[hlab] (hl4) at (1034.6,958.4) {Eden区};
\node[hlab] (hl5) at (1034.6,1005.1) {S0};
\node[hlab] (hl6) at (1034.6,1019.2) {S1};
\draw[gray!70, decorate, decoration={brace, amplitude=1.5pt}] (1064.3,917.4) -- (1064.3,1026.7);
\draw[gray!70, decorate, decoration={brace, amplitude=1.5pt}] (1069.5,999.4) -- (1069.5,1026.7);
\node[hlab, anchor=west] (hl7) at (1068.5,972.8) {Young区};
\node[hlab, anchor=west] (hl8) at (1073.5,1013) {Survivor区};

% flowchart picture
\fill[white] (870.4,1139.3) rectangle (1132.5,1256);
\node[frr, sz={21.8}{7}] (fs) at (960.8,1144.1) {开始};
\node[fob, sz={35}{7.2}] (fo1) at (960.8,1158.9) {新对象申请内存空间};
\node[fdia, minimum width=32.8*\ux, minimum height=10.9*\ux] (d1) at (960.8,1176.1) {};
\node[fcy, sz={23.2}{10.5}] (fc1) at (997.5,1175.85) {JVM\\回收年轻代对象};
\node[fdia, minimum width=32.8*\ux, minimum height=10.9*\ux] (d2) at (997.5,1195.8) {};
\node[fdia, minimum width=39.3*\ux, minimum height=10.9*\ux] (d3) at (1043,1195.8) {};
\node[fdia, minimum width=35*\ux, minimum height=10*\ux] (d4) at (1078.3,1205.6) {};
\node[fcy, sz={22.9}{10.5}] (fc2) at (1112.75,1222.95) {JVM\\进行Full GC};
\node[fcy, sz={28}{11}] (fc3) at (1043.2,1231.9) {Eden区部分存活对象\\复制到Survivor区};
\node[fcy, sz={27.8}{11}] (fc4) at (1079.1,1231.9) {将Survivor区部分存活\\对象复制到Old区};
\node[fob, sz={35.2}{7}] (fo2) at (960.9,1232.1) {新对象分配内存成功};
\node[frr, sz={21.8}{7}] (fe) at (960.8,1246.8) {结束};
\node[fcy, sz={27.5}{10.5}] (fc5) at (1027.85,1247.45) {OutOfMemoryError};
\node[fdia, minimum width=35*\ux, minimum height=10*\ux] (d5) at (1078.3,1247.2) {};
\node[fdt] (d1t) at (d1) {Eden是否有足够空间?};
\node[fdt] (d2t) at (d2) {Eden是否有足够空间?};
\node[fdt] (d3t) at (d3) {Survivor区是否有足够空间?};
\node[fdt] (d4t) at (d4) {Old区是否有足够空间?};
\node[fdt] (d5t) at (d5) {Old区是否有足够空间?};
\coordinate (fk1) at (939,1176.1);
\draw[farr] (fs) -- (fo1);
\draw[farr] (fo1) -- (d1);
\draw[farr] (d1.east) -- (fc1.west);
\draw[farr] (d1.west) -- (fk1) |- (fo2.west);
\draw[farr] (fc1) -- (d2);
\draw[farr] (d2.east) -- (d3.west);
\draw[farr] (d2.south) -| (fo2.north);
\draw[farr] (d3.east) -| (d4.north);
\draw[farr] (d3.south) -- (fc3.north);
\draw[farr] (d4.east) -| (fc2.north);
\draw[farr] (d4.south) -- (fc4.north);
\draw[farr] (fc2.south) |- (d5.east);
\draw[farr] (d5.north) -- (fc4.south);
\draw[farr] (d5.west) -- (fc5.east);
\draw[farr] (fc5.west) -- (fe.east);
\draw[farr] (fc4.west) -- (fc3.east);
\draw[farr] (fc3.west) -- (fo2.east);
\draw[farr] (fo2) -- (fe);
\node[ftl, text=blue] (tl1) at (941.4,1174.5) {true};
\node[ftl, text=cmag] (tl2) at (980,1178.3) {false};
\node[ftl, text=red] (tl3) at (976.8,1182.2) {Minor GC};
\node[ftl, text=cmag] (tl4) at (1016.7,1194) {false};
\node[ftl, text=blue] (tl5) at (992,1203.9) {true};
\node[ftl, text=cmag] (tl6) at (1069.6,1193.1) {false};
\node[ftl, text=blue] (tl7) at (1039,1203.9) {true};
\node[ftl, text=cmag] (tl8) at (1099.8,1203.9) {false};
\node[ftl, text=red] (tl9) at (1118.8,1207.1) {Full GC};
\node[ftl, text=blue] (tl10) at (1074.4,1212.8) {true};
\node[ftl, text=cmag] (tl11) at (1052.6,1244.4) {false};
\node[ftl, text=blue] (tl12) at (1083.8,1239.5) {true};
\node[font={\fsz{2.6}{3}}, text=gtext, inner sep=0pt] (hmt) at (903.6,1175) {堆内存};
\draw[gray!60!black, line width=0.5pt, double=white, double distance=0.5pt] (886.8,1178.3) rectangle (922.2,1222);
\node[draw=gray!60!black, line width=0.4pt, sz={13.1}{30}, font={\fsz{2.6}{3}}, text=gtext] (hme) at (914.95,1194.3) {Eden};
\node[draw=gray!60!black, line width=0.4pt, sz={13.1}{5.1}, font={\fsz{2.4}{3}}, text=gtext] (hms0) at (914.95,1212.95) {S0};
\node[draw=gray!60!black, line width=0.4pt, sz={13.1}{5.5}, font={\fsz{2.4}{3}}, text=gtext] (hms1) at (914.95,1218.85) {S1};
\node[font={\fsz{2.6}{3}}, text=gtext, inner sep=0pt, anchor=east] (hmo) at (886,1198.6) {Old区};
\node[font={\fsz{2.6}{3}}, text=gtext, inner sep=0pt, anchor=west] (hmy) at (923,1199.3) {Young区};
\end{scope}

% ================= JVM connectors
\coordinate (jt1) at (608,607.5);
\coordinate (jt2) at (617,607.5);
\coordinate (jb1) at (600.5,651.5);
\coordinate (jb2) at (609.5,651.5);
\coordinate (jb3) at (617,651.5);
\coordinate (jr) at (654.5,645.5);
\draw[cn] (jt1) .. controls (608,470) and (590,361.25) .. (gc.east);
\draw[cn] (jt2) .. controls (617,400) and (625,241.6) .. (lj.west);
\draw[cn] (jr) .. controls (672,655) and (680,657.8) .. (rda.west);
\draw[cn] (jb1) .. controls (600,705) and (568,761.35) .. (fd.east);
\draw[cn] (jb2) .. controls (609,880) and (585,972.85) .. (zd.east);
\draw[cn] (jb3) .. controls (617,960) and (628,1140) .. (nc.west);
\end{tikzpicture}
\end{document}
